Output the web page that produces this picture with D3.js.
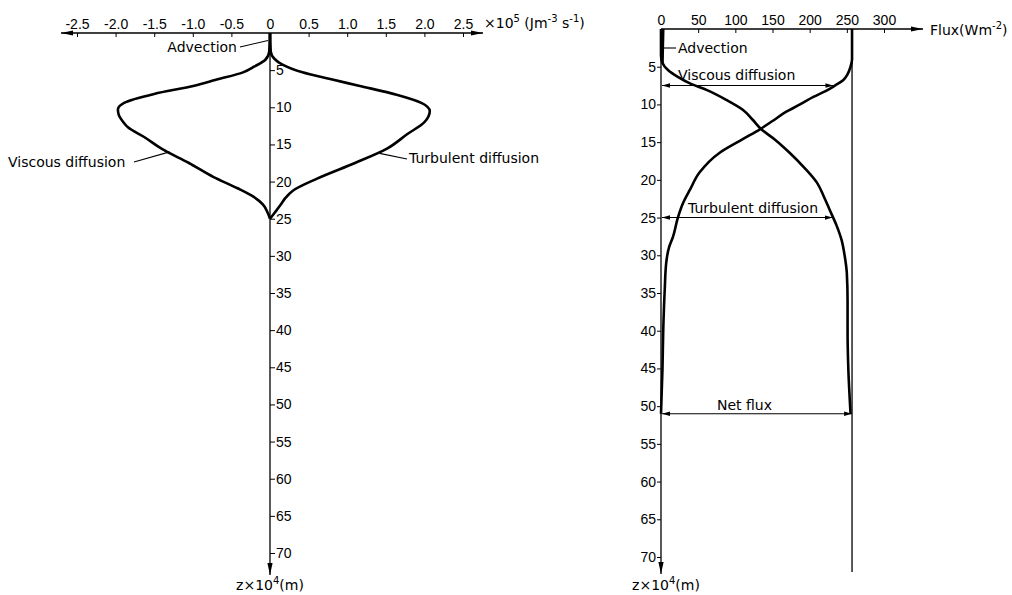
<!DOCTYPE html>
<html>
<head>
<meta charset="utf-8">
<script src="https://cdn.jsdelivr.net/npm/d3@7"></script>
<style>
body { margin: 0; background: #fff; }
svg { display: block; font-family: "DejaVu Sans", sans-serif; }
</style>
</head>
<body>
<div id="body"></div>
<script>
//tick values
let qTicks = [-2.5, -2, -1.5, -1, -0.5, 0, 0.5, 1, 1.5, 2, 2.5]
let fluxTicks = [0, 50, 100, 150, 200, 250, 300]
let depthTicks = [5, 10, 15, 20, 25, 30, 35, 40, 45, 50, 55, 60, 65, 70]

//left panel: source terms (x10^5 J m-3 s-1) against depth z (x10^4 m)
let viscZ = [0, 2.5, 3.6, 4.5, 5.3, 6.3, 7.1, 8.2, 9.4, 10.3, 11, 12, 12.7, 14, 15.6, 17.5, 19.4, 20.9, 22, 23.1, 24.2, 25]
let viscQ = [0, -0.01, -0.06, -0.2, -0.35, -0.7, -0.98, -1.5, -1.89, -1.97, -1.96, -1.9, -1.84, -1.63, -1.4, -1.05, -0.73, -0.42, -0.22, -0.09, -0.03, 0]
let turbZ = [0, 2.5, 3.5, 4.2, 5.3, 6.2, 7.1, 8.3, 9.4, 10.5, 12, 13.6, 15.6, 17.5, 19.6, 21.2, 22.2, 23.1, 24.2, 25]
let turbQ = [0, 0.01, 0.06, 0.15, 0.42, 0.78, 1.15, 1.64, 1.96, 2.07, 2.0, 1.78, 1.51, 1.1, 0.61, 0.3, 0.2, 0.14, 0.06, 0]
let advZ = [0, 2.5]
let advQ = [0, 0]

//right panel: fluxes (W m-2) against depth
let fViscZ = [0, 4, 5, 6, 6.8, 7.5, 8.2, 9, 10, 11, 12.2, 13.3, 14.6, 16.4, 19, 21.3, 23, 24.9, 27.6, 28.9, 31, 34.6, 40, 45, 51]
let fViscF = [257, 257, 255, 251, 245, 234, 222, 205, 187, 168, 150, 133, 110, 79, 52, 39, 30, 23, 16, 11, 7, 5, 3, 2, 0]
let fTurbZ = [0, 3.5, 4.5, 5.4, 6.3, 7.2, 8.1, 9.4, 10.7, 12, 13.3, 14.8, 16.4, 18.4, 20.4, 22.2, 24, 26, 28, 30, 32.4, 36, 40, 45, 51]
let fTurbF = [0, 0, 2, 9, 22, 39, 62, 88, 110, 123, 135, 155, 173, 193, 210, 219, 227, 236, 243, 247, 250, 251, 251, 252, 255]
let fAdvZ = [0, 4.5]
let fAdvF = [3, 2]
let netZ = [0, 72]
let netF = [257, 257]
//depths of the dimension arrows
let arrowDepth = { visc: 7.5, turb: 25, net: 51 }

let svg = d3.select('#body')
.append('svg')
.attr('width', 1012)
.attr('height', 595)

//arrow heads
let defs = svg.append('defs')
defs.append('marker')
.attr('id', 'axArrow')
.attr('viewBox', '0 -4 12 8')
.attr('refX', 12).attr('refY', 0)
.attr('markerUnits', 'userSpaceOnUse')
.attr('markerWidth', 12).attr('markerHeight', 8)
.attr('orient', 'auto-start-reverse')
.append('path').attr('d', 'M0,-2.6L12,0L0,2.6Z').attr('fill', '#000')
defs.append('marker')
.attr('id', 'dimArrow')
.attr('viewBox', '0 -3 8 6')
.attr('refX', 8).attr('refY', 0)
.attr('markerUnits', 'userSpaceOnUse')
.attr('markerWidth', 8).attr('markerHeight', 6)
.attr('orient', 'auto-start-reverse')
.append('path').attr('d', 'M0,-2.2L8,0L0,2.2Z').attr('fill', '#000')

let zip = (zs, vs) => zs.map((z, i) => ({ z: z, v: vs[i] }))

// ---------- left panel ----------
let xL = d3.scaleLinear().domain([-2.5, 2.5]).range([77, 463])
let yL = d3.scaleLinear().domain([0, 70]).range([33, 553])
let qFmt = d => d === 0 ? '0' : d.toFixed(1)

let gL = svg.append('g')
let axTopL = gL.append('g')
.attr('transform', `translate(0,${yL(0)})`)
.call(d3.axisTop(xL).tickValues(qTicks).tickFormat(qFmt).tickSizeInner(-4).tickSizeOuter(0).tickPadding(4))
axTopL.select('.domain').remove()
axTopL.selectAll('text').attr('font-size', 14).attr('font-family', null)
gL.append('line')
.attr('x1', xL(-2.5) - 16).attr('x2', xL(2.5) + 20)
.attr('y1', yL(0)).attr('y2', yL(0))
.attr('stroke', '#000').attr('stroke-width', 1.3)
.attr('marker-start', 'url(#axArrow)').attr('marker-end', 'url(#axArrow)')

let axZL = gL.append('g')
.attr('transform', `translate(${xL(0)},0)`)
.call(d3.axisRight(yL).tickValues(depthTicks).tickSize(5).tickPadding(1))
axZL.select('.domain').remove()
axZL.selectAll('text').attr('font-size', 14).attr('font-family', null)
gL.append('line')
.attr('x1', xL(0)).attr('x2', xL(0))
.attr('y1', yL(0)).attr('y2', yL(70) + 22)
.attr('stroke', '#000').attr('stroke-width', 1.3)
.attr('marker-end', 'url(#axArrow)')

let lineL = d3.line().x(d => xL(d.v)).y(d => yL(d.z)).curve(d3.curveMonotoneY)
let leftCurves = [zip(viscZ, viscQ), zip(turbZ, turbQ), zip(advZ, advQ)]
gL.selectAll('path.curve')
.data(leftCurves)
.join('path')
.classed('curve', true)
.attr('d', lineL)
.attr('fill', 'none')
.attr('stroke', '#000')
.attr('stroke-width', 2.6)
.attr('stroke-linejoin', 'round')

//labels and leaders
let leader = (g, x1, y1, x2, y2) => g.append('line')
.attr('x1', x1).attr('y1', y1).attr('x2', x2).attr('y2', y2)
.attr('stroke', '#000').attr('stroke-width', 1.1)
let label = (g, x, y, txt, anchor) => g.append('text')
.attr('x', x).attr('y', y)
.attr('font-size', 14)
.attr('text-anchor', anchor || 'start')
.text(txt)

label(gL, 237, 52, 'Advection', 'end')
leader(gL, 240, 47, xL(0) - 2, yL(1))
label(gL, 8, 167, 'Viscous diffusion')
leader(gL, 134, 162, xL(-1.3), yL(16))
label(gL, 409, 163, 'Turbulent diffusion')
leader(gL, xL(1.42), yL(16.2), 407, 159)

let unitL = gL.append('text').attr('x', 484).attr('y', 28).attr('font-size', 14)
unitL.append('tspan').text('×10')
unitL.append('tspan').attr('font-size', 10).attr('dy', -6).text('5')
unitL.append('tspan').attr('dy', 6).text(' (Jm')
unitL.append('tspan').attr('font-size', 10).attr('dy', -6).text('-3')
unitL.append('tspan').attr('dy', 6).text(' s')
unitL.append('tspan').attr('font-size', 10).attr('dy', -6).text('-1')
unitL.append('tspan').attr('dy', 6).text(')')

let zL = gL.append('text').attr('x', xL(0)).attr('y', 590).attr('font-size', 14).attr('text-anchor', 'middle')
zL.append('tspan').text('z×10')
zL.append('tspan').attr('font-size', 10).attr('dy', -6).text('4')
zL.append('tspan').attr('dy', 6).text('(m)')

// ---------- right panel ----------
let xR = d3.scaleLinear().domain([0, 300]).range([661, 884])
let yR = d3.scaleLinear().domain([0, 70]).range([29, 557])

let gR = svg.append('g')
let axTopR = gR.append('g')
.attr('transform', `translate(0,${yR(0)})`)
.call(d3.axisTop(xR).tickValues(fluxTicks).tickSizeInner(-4).tickSizeOuter(0).tickPadding(4))
axTopR.select('.domain').remove()
axTopR.selectAll('text').attr('font-size', 14).attr('font-family', null)
gR.append('line')
.attr('x1', xR(0)).attr('x2', 923)
.attr('y1', yR(0)).attr('y2', yR(0))
.attr('stroke', '#000').attr('stroke-width', 1.3)
.attr('marker-end', 'url(#axArrow)')

let axZR = gR.append('g')
.attr('transform', `translate(${xR(0)},0)`)
.call(d3.axisLeft(yR).tickValues(depthTicks).tickSize(4).tickPadding(1))
axZR.select('.domain').remove()
axZR.selectAll('text').attr('font-size', 14).attr('font-family', null)
gR.append('line')
.attr('x1', xR(0)).attr('x2', xR(0))
.attr('y1', yR(0)).attr('y2', yR(70) + 17)
.attr('stroke', '#000').attr('stroke-width', 1.3)
.attr('marker-end', 'url(#axArrow)')

let lineR = d3.line().x(d => xR(d.v)).y(d => yR(d.z)).curve(d3.curveMonotoneY)
//net flux thin line
gR.append('path')
.datum(zip(netZ, netF))
.attr('d', lineR)
.attr('fill', 'none').attr('stroke', '#000').attr('stroke-width', 1.3)
let rightCurves = [zip(fViscZ, fViscF), zip(fTurbZ, fTurbF), zip(fAdvZ, fAdvF)]
gR.selectAll('path.curve')
.data(rightCurves)
.join('path')
.classed('curve', true)
.attr('d', lineR)
.attr('fill', 'none')
.attr('stroke', '#000')
.attr('stroke-width', 2.6)
.attr('stroke-linejoin', 'round')

//dimension arrows
let dimArrow = (z, v) => gR.append('line')
.attr('x1', xR(0) + 1).attr('x2', xR(v))
.attr('y1', yR(z)).attr('y2', yR(z))
.attr('stroke', '#000').attr('stroke-width', 1.1)
.attr('marker-start', 'url(#dimArrow)').attr('marker-end', 'url(#dimArrow)')
dimArrow(arrowDepth.visc, 232)
dimArrow(arrowDepth.turb, 231)
dimArrow(arrowDepth.net, 257)

label(gR, 678, 53, 'Advection')
leader(gR, xR(3), 48, 676, 48)
label(gR, 678, 80, 'Viscous diffusion')
label(gR, 688, 213, 'Turbulent diffusion')
label(gR, 717, 410, 'Net flux')

let unitR = gR.append('text').attr('x', 930).attr('y', 35).attr('font-size', 14)
unitR.append('tspan').text('Flux(Wm')
unitR.append('tspan').attr('font-size', 10).attr('dy', -6).text('-2')
unitR.append('tspan').attr('dy', 6).text(')')

let zR = gR.append('text').attr('x', 666).attr('y', 590).attr('font-size', 14).attr('text-anchor', 'middle')
zR.append('tspan').text('z×10')
zR.append('tspan').attr('font-size', 10).attr('dy', -6).text('4')
zR.append('tspan').attr('dy', 6).text('(m)')
</script>
</body>
</html>
